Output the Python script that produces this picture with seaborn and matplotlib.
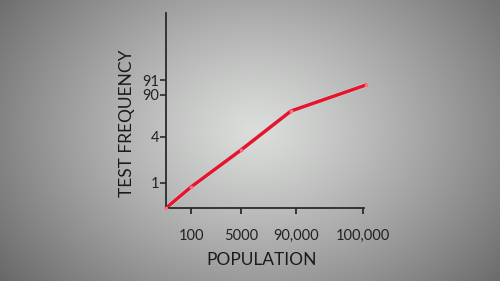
import numpy as np
import pandas as pd
import matplotlib
matplotlib.use("Agg")
import matplotlib.pyplot as plt
import matplotlib.patheffects as pe
import seaborn as sns

# Schematic chart: positions along each axis (axis units), with custom tick labels
x_pos = [0, 25, 75, 125, 200]
y_pos = [0, 21, 58, 97, 123]
x_tick_pos = [25, 75, 130, 197]
x_tick_labels = ["100", "5000", "90,000", "100,000"]
y_tick_pos = [25, 71, 113, 128]
y_tick_labels = ["1", "4", "90", "91"]

sns.set_theme(style="white")
plt.rcParams["font.family"] = ["Lato", "DejaVu Sans"]

fig = plt.figure(figsize=(5, 2.81), dpi=100)

# radial gradient background
W, H = 500, 281
yy, xx = np.mgrid[0:H, 0:W]
r = np.sqrt(((xx - 255) / 300.0) ** 2 + ((yy - 130) / 230.0) ** 2)
val = 220 - 108 * np.clip(r, 0, 1.3) ** 1.15
img = np.clip(val, 0, 255) / 255.0
bg = fig.add_axes([0, 0, 1, 1])
bg.imshow(np.dstack([img, img * 1.008, img]).clip(0, 1), aspect="auto",
          extent=[0, 1, 0, 1], origin="upper")
bg.set_axis_off()

ax = fig.add_axes([166 / 500, 1 - 208 / 281, 198 / 500, 195 / 281])
ax.set_facecolor("none")

df = pd.DataFrame({"x": x_pos, "y": y_pos})
sns.lineplot(data=df, x="x", y="y", ax=ax, color="#e8142c", linewidth=2.5,
             clip_on=False, solid_capstyle="round",
             path_effects=[pe.Stroke(linewidth=3.2, foreground="#c4e2e2"), pe.Normal()])
sns.scatterplot(data=df, x="x", y="y", ax=ax, color="#ff7084", s=7,
                linewidth=0, clip_on=False, zorder=5)

ax.set_xlim(0, 198)
ax.set_ylim(0, 195)
ax.set_xticks(x_tick_pos)
ax.set_xticklabels(x_tick_labels)
ax.set_yticks(y_tick_pos)
ax.set_yticklabels(y_tick_labels)

for s in ["top", "right"]:
    ax.spines[s].set_visible(False)
for s in ["left", "bottom"]:
    ax.spines[s].set_color("#2a2a2a")
    ax.spines[s].set_linewidth(1.3)

ax.tick_params(axis="x", direction="out", length=4, width=1.3, color="#2a2a2a",
               pad=11, labelsize=10.5, labelcolor="#222222", bottom=True)
ax.tick_params(axis="y", direction="out", length=4, width=1.2, color="#2a2a2a",
               pad=1, labelsize=10.5, labelcolor="#222222", left=True)

ax.set_xlabel("POPULATION", fontsize=12.5, color="#1a1a1a")
ax.set_ylabel("TEST FREQUENCY", fontsize=12.5, color="#1a1a1a")
ax.xaxis.set_label_coords(0.485, -0.228)
ax.yaxis.label.set_va("center")
ax.yaxis.set_label_coords(-0.197, 0.436)

fig.savefig("out.png", dpi=100)
